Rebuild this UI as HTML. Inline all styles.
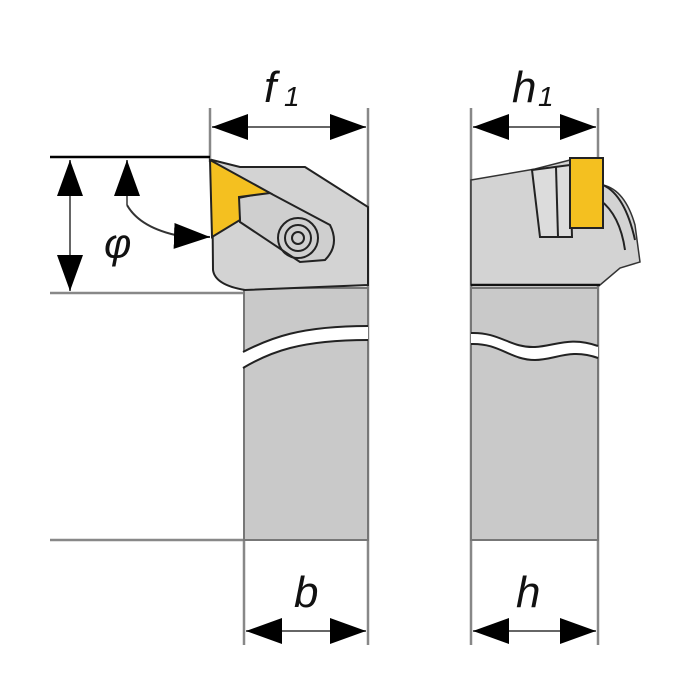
<!DOCTYPE html>
<html><head><style>body{margin:0;background:#fff}svg{display:block}</style></head><body>
<svg width="700" height="700" viewBox="0 0 700 700" xmlns="http://www.w3.org/2000/svg">
<defs>
<marker id="a" viewBox="0 0 10 10" refX="10" refY="5" markerWidth="36" markerHeight="26" orient="auto-start-reverse" markerUnits="userSpaceOnUse" preserveAspectRatio="none"><path d="M0,0L10,5L0,10z" fill="#000"/></marker>
</defs>
<g stroke="#888" stroke-width="2.5">
<line x1="210" y1="108" x2="210" y2="162"/>
<line x1="368" y1="108" x2="368" y2="645"/>
<line x1="471" y1="108" x2="471" y2="645"/>
<line x1="598" y1="108" x2="598" y2="645"/>
<line x1="244" y1="540" x2="244" y2="645"/>
<line x1="50" y1="540" x2="244" y2="540"/>
<line x1="50" y1="293" x2="245" y2="293"/>
</g>
<line x1="50" y1="157" x2="210" y2="157" stroke="#000" stroke-width="2.5"/>
<rect x="244" y="288" width="124" height="252" fill="#c9c9c9" stroke="#777" stroke-width="2"/>
<path d="M243,352 C270,338 300,326 368,326 L368,340 C300,340 270,352 243,368 Z" fill="#fff"/>
<path d="M243,352 C270,338 300,326 368,326 M243,368 C270,352 300,340 368,340" fill="none" stroke="#222" stroke-width="2"/>
<path d="M212,160 L240,167 L305,167 L368,207 L368,285 L245,290 Q215,285 213,270 Z" fill="#d3d3d3" stroke="#222" stroke-width="2"/>
<path d="M238,198 L268,192 L330,225 Q340,245 325,260 L300,262 L240,222 Z" fill="#cfcfcf" stroke="#222" stroke-width="2"/>
<circle cx="298" cy="238" r="20" fill="none" stroke="#222" stroke-width="2"/>
<circle cx="298" cy="238" r="13" fill="none" stroke="#222" stroke-width="2"/>
<circle cx="298" cy="238" r="6" fill="none" stroke="#222" stroke-width="2"/>
<path d="M210,160 L270,193 L239,197 L240,220 L212,237 Z" fill="#f4c020" stroke="#222" stroke-width="2"/>
<rect x="471" y="288" width="127" height="252" fill="#c9c9c9" stroke="#777" stroke-width="2"/>
<path d="M471,333 C500,332 510,348 535,347 C555,346 570,336 598,346 L598,358 C570,348 555,360 535,360 C510,360 500,343 471,344 Z" fill="#fff"/>
<path d="M471,333 C500,332 510,348 535,347 C555,346 570,336 598,346 M471,344 C500,343 510,360 535,360 C555,360 570,348 598,358" fill="none" stroke="#222" stroke-width="2"/>
<path d="M471,180 L535,169 L570,160 L600,158 L603,185 Q625,190 635,225 L640,262 L620,268 L600,285 L471,285 Z" fill="#d3d3d3" stroke="#333" stroke-width="1.5"/>
<line x1="471" y1="285" x2="600" y2="285" stroke="#111" stroke-width="2.5"/>
<path d="M532,170 L570,165 L572,237 L540,237 Z" fill="#dcdcdc" stroke="#222" stroke-width="2"/>
<line x1="556" y1="167" x2="558" y2="237" stroke="#222" stroke-width="2"/>
<path d="M603,185 Q625,195 635,240 M600,200 Q620,215 625,250" fill="none" stroke="#222" stroke-width="2"/>
<rect x="570" y="158" width="33" height="70" fill="#f4c020" stroke="#222" stroke-width="2"/>
<g stroke="#666" stroke-width="2" marker-start="url(#a)" marker-end="url(#a)">
<line x1="212" y1="127" x2="366" y2="127"/>
<line x1="473" y1="127" x2="596" y2="127"/>
<line x1="246" y1="631" x2="366" y2="631"/>
<line x1="473" y1="631" x2="596" y2="631"/>
<line x1="70" y1="160" x2="70" y2="291"/>
</g>
<line x1="127" y1="160" x2="127" y2="205" stroke="#666" stroke-width="2" marker-start="url(#a)"/>
<path d="M127,205 Q140,228 180,236" fill="none" stroke="#333" stroke-width="2"/>
<line x1="176" y1="236" x2="210" y2="237" stroke="#333" stroke-width="2" marker-end="url(#a)"/>
<g font-family="Liberation Sans, sans-serif" font-style="italic" fill="#111">
<text x="264" y="102" font-size="44">f</text><text x="284" y="106" font-size="28">1</text>
<text x="512" y="102" font-size="44">h</text><text x="538" y="106" font-size="28">1</text>
<text x="294" y="607" font-size="44">b</text>
<text x="516" y="607" font-size="44">h</text>
<text x="104" y="258" font-size="42">φ</text>
</g>
</svg>
</body></html>
